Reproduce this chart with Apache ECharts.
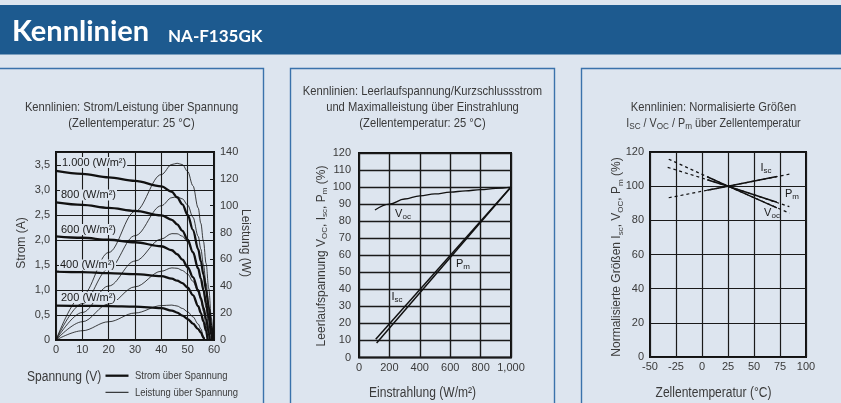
<!DOCTYPE html>
<html><head><meta charset="utf-8">
<script src="https://cdn.jsdelivr.net/npm/echarts@6/dist/echarts.min.js"></script>
<style>html,body{margin:0;padding:0;background:#dde5ef}#c{width:841px;height:403px}</style>
</head><body><div id="c"></div>
<script>
// ---------- Chart 1: I-V and P-V curves (25 °C) ----------
const V_1000 = [0,10,20,30,40,44,46,48,50,52,54,55,56,57,58,59,59.7];
const I_1000 = [3.39,3.33,3.26,3.19,3.08,2.97,2.86,2.72,2.51,2.21,1.82,1.58,1.31,1.0,0.66,0.28,0];
const P_1000 = [0,33.3,65.2,95.7,123.2,130.7,131.6,130.6,125.5,114.9,98.3,86.9,73.4,57,38.3,16.5,0];

const V_800 = [0,10,20,30,40,44,46,48,50,52,54,55,56,57,58,59,59.2];
const I_800 = [2.76,2.71,2.65,2.59,2.50,2.41,2.32,2.19,2.01,1.76,1.43,1.23,1.0,0.74,0.44,0.1,0];
const P_800 = [0,27.1,53,77.7,100,106,106.7,105.1,100.5,91.5,77.2,67.7,56,42.2,25.5,5.9,0];

const V_600 = [0,10,20,30,40,44,46,48,50,52,54,55,56,57,58,58.4];
const I_600 = [2.08,2.05,2.01,1.96,1.88,1.80,1.72,1.61,1.46,1.26,1.0,0.84,0.65,0.42,0.15,0];
const P_600 = [0,20.5,40.2,58.8,75.2,79.2,79.1,77.3,73,65.5,54,46.2,36.4,23.9,8.7,0];

const V_400 = [0,10,20,30,40,44,46,48,50,52,54,55,56,57,57.6];
const I_400 = [1.37,1.36,1.34,1.32,1.28,1.23,1.19,1.14,1.05,0.90,0.68,0.54,0.37,0.18,0];
const P_400 = [0,13.6,26.8,39.6,51.2,53.7,53.4,51.8,49,43.7,35.6,29.7,21.3,10.3,0];

const V_200 = [0,10,20,30,40,44,46,48,50,52,54,55,56,56.3];
const I_200 = [0.69,0.685,0.68,0.67,0.64,0.59,0.55,0.49,0.42,0.33,0.22,0.15,0.05,0];
const P_200 = [0,6.9,13.6,20.1,25.6,26,25.3,23.5,21,17.2,11.9,8.3,2.8,0];

const irrLabels = ['1.000 (W/m²)','800 (W/m²)','600 (W/m²)','400 (W/m²)','200 (W/m²)'];

// ---------- Chart 2: Voc / Isc / Pm over irradiance ----------
const irr_voc = [105,200,300,400,500,600,700,800,900,1000];
const voc_pct = [86.5,90,93,94.8,96,97,97.8,98.5,99.2,100];
const irr_isc = [110,1000];
const isc_pct = [10.7,100];
const irr_pm = [116,1000];
const pm_pct = [8.5,100];
const irrTicks = ['0','200','400','600','800','1,000'];

// ---------- Chart 3: normalised values over cell temperature ----------
const temp_full_isc = [-32,25,84];  const isc_full = [93.2,100,107];
const temp_full_voc = [-32,25,84];  const voc_full = [115.8,100,84.2];
const temp_full_pm  = [-33,25,84];  const pm_full  = [111,100,88];
const temp_solid = [5,25,72];
const isc_solid = [97.6,100,105.6];
const voc_solid = [105.5,100,87.3];
const pm_solid  = [103.8,100,90.6];

const zip = (a,b) => a.map((v,i)=>[v,b[i]]);

const SANS = "'Liberation Sans',Arial,sans-serif";
const NSX = 0.86;           // horizontal squeeze that imitates a condensed face
const INK = '#1a1a1a';
const TXT = '#3a3a3a';
const BG = '#dde5ef';

const tickLbl = {fontFamily:SANS, fontSize:11, color:TXT};
const gridLine = {show:true, lineStyle:{color:INK, width:1.1}};

const chart = echarts.init(document.getElementById('c'), null, {renderer:'canvas'});

function ivSeries(v,i,name){ return {name, type:'line', xAxisIndex:0, yAxisIndex:0, data:zip(v,i), showSymbol:false, smooth:0.35, smoothMonotone:'x', lineStyle:{color:'#111', width:2.3}, z:5}; }
function pvSeries(v,p,name){ return {name, type:'line', xAxisIndex:0, yAxisIndex:1, data:zip(v,p), showSymbol:false, smooth:0.35, smoothMonotone:'x', lineStyle:{color:'#111', width:0.8}, z:4}; }

const sub = (extra) => Object.assign({fontSize:8, fontFamily:SANS, fill:TXT, verticalAlign:'bottom', lineHeight:9}, extra||{});

function richText(x,y,text,rich,rot,sx){
  return {type:'text', x, y, rotation:rot||0, scaleX:sx||1, z:50, style:{text, rich, align:'center', verticalAlign:'middle', fill:TXT}};
}
function plain(x,y,text,font,align,sx){
  return {type:'text', x, y, scaleX:sx||1, z:50, style:{text, font, align:align||'center', verticalAlign:'middle', fill:TXT}};
}
function narrow(x,y,text,size,align){ return plain(x,y,text,size+'px '+SANS,align,NSX); }
function curveLbl(x,y,t){
  return {type:'text', x, y, z:60, style:{text:t, font:'11px '+SANS, align:'left', verticalAlign:'middle', fill:INK, backgroundColor:BG, padding:[0,1,0,1]}};
}
const lblRich = {a:{fontSize:11, fontFamily:SANS, fill:INK, lineHeight:14}, s:{fontSize:8, fontFamily:SANS, fill:INK, verticalAlign:'bottom', lineHeight:9}};

const graphic = [
  {type:'rect', shape:{x:0,y:5,width:841,height:49.5}, style:{fill:'#1d5a8f'}, z:1},
  {type:'text', x:12, y:32, z:2, style:{text:'Kennlinien', font:'bold 29px Lato,sans-serif', fill:'#ffffff', verticalAlign:'middle'}},
  {type:'text', x:168, y:36.5, z:2, style:{text:'NA-F135GK', font:'bold 17px Lato,sans-serif', fill:'#ffffff', verticalAlign:'middle'}},
  {type:'rect', shape:{x:-5,y:68.5,width:268.5,height:345}, style:{fill:'none', stroke:'#3a72ab', lineWidth:1.4}, z:1},
  {type:'rect', shape:{x:290.5,y:68.5,width:264,height:345}, style:{fill:'none', stroke:'#3a72ab', lineWidth:1.4}, z:1},
  {type:'rect', shape:{x:581.5,y:68.5,width:270,height:345}, style:{fill:'none', stroke:'#3a72ab', lineWidth:1.4}, z:1},
  // chart titles
  narrow(131.5,107.5,'Kennlinien: Strom/Leistung über Spannung',13),
  narrow(131.5,123,'(Zellentemperatur: 25 °C)',13),
  narrow(422.5,91.5,'Kennlinien: Leerlaufspannung/Kurzschlussstrom',13),
  narrow(422.5,107,'und Maximalleistung über Einstrahlung',13),
  narrow(422.5,123,'(Zellentemperatur: 25 °C)',13),
  narrow(713.5,107.5,'Kennlinien: Normalisierte Größen',13),
  richText(713.5,123.5,'{a|I}{s|SC}{a| / V}{s|OC}{a| / P}{s|m}{a| über Zellentemperatur}',
     {a:{fontSize:12.5, fontFamily:SANS, fill:TXT, lineHeight:15}, s:sub({fontSize:9.5, lineHeight:10})}, 0, 0.86),
  // chart 1 axis names and legend
  {type:'text', x:22, y:243, rotation:Math.PI/2, z:50, style:{text:'Strom (A)', font:'12px '+SANS, align:'center', verticalAlign:'middle', fill:TXT}},
  {type:'text', x:245, y:243, rotation:-Math.PI/2, z:50, style:{text:'Leistung (W)', font:'12px '+SANS, align:'center', verticalAlign:'middle', fill:TXT}},
  narrow(27,377,'Spannung (V)',14,'left'),
  {type:'line', shape:{x1:105.5,y1:375.7,x2:128.5,y2:375.7}, style:{stroke:'#111', lineWidth:2.3}, z:50},
  {type:'line', shape:{x1:105.5,y1:392.3,x2:128.5,y2:392.3}, style:{stroke:'#111', lineWidth:1}, z:50},
  narrow(135,376,'Strom über Spannung',11,'left'),
  narrow(135,392.5,'Leistung über Spannung',11,'left'),
  // chart 1 curve labels
  curveLbl(61,162.5,irrLabels[0]),
  curveLbl(60,195,irrLabels[1]),
  curveLbl(60,229.5,irrLabels[2]),
  curveLbl(59,265,irrLabels[3]),
  curveLbl(60,297.5,irrLabels[4]),
  // chart 2 names & labels
  richText(321.5,256,'{a|Leerlaufspannung V}{s|OC}{a|, I}{s|sc}{a|, P}{s|m}{a| (%)}',
     {a:{fontSize:12, fontFamily:SANS, fill:TXT, lineHeight:15}, s:sub()}, Math.PI/2),
  narrow(422.5,393,'Einstrahlung (W/m²)',14),
  richText(403,214,'{a|V}{s|oc}', lblRich),
  richText(397,297,'{a|I}{s|sc}', lblRich),
  richText(463,264,'{a|P}{s|m}', lblRich),
  // chart 3 names & labels
  richText(617,257,'{a|Normalisierte Größen I}{s|sc}{a|, V}{s|OC}{a|, P}{s|m}{a| (%)}',
     {a:{fontSize:12, fontFamily:SANS, fill:TXT, lineHeight:15}, s:sub()}, Math.PI/2),
  narrow(713.5,393,'Zellentemperatur (°C)',14),
  richText(766,168,'{a|I}{s|sc}', lblRich),
  richText(792,194,'{a|P}{s|m}', lblRich),
  richText(772,213,'{a|V}{s|oc}', lblRich)
];

const gridBox = {show:true, borderColor:'#111', borderWidth:2, backgroundColor:'transparent', containLabel:false};

const option = {
  backgroundColor:BG,
  animation:false,
  grid:[
    Object.assign({left:56, right:627, top:152, bottom:63}, gridBox),
    Object.assign({left:359, right:330, top:153, bottom:45.5}, gridBox),
    Object.assign({left:650, right:35, top:152, bottom:46}, gridBox)
  ],
  xAxis:[
    {type:'value', gridIndex:0, min:0, max:60, interval:10, axisLine:{show:false}, axisTick:{show:false},
      axisLabel:Object.assign({margin:4}, tickLbl), splitLine:gridLine},
    {type:'value', gridIndex:1, min:0, max:1000, interval:200, axisLine:{show:false}, axisTick:{show:false},
      axisLabel:Object.assign({margin:5, formatter:(v)=>irrTicks[Math.round(v/200)]}, tickLbl), splitLine:{show:true, lineStyle:{color:INK, width:1.4}}},
    {type:'value', gridIndex:2, min:-50, max:100, interval:25, axisLine:{show:false}, axisTick:{show:false},
      axisLabel:Object.assign({margin:4}, tickLbl), splitLine:{show:true, lineStyle:{color:INK, width:1.2}}}
  ],
  yAxis:[
    {type:'value', gridIndex:0, min:0, max:3.77, interval:0.5, axisLine:{show:false}, axisTick:{show:false},
      axisLabel:Object.assign({margin:6, formatter:(v)=>{ if(v===0) return '0'; if(Math.abs(v*2-Math.round(v*2))>1e-6) return ''; return v.toFixed(1).replace('.',','); }}, tickLbl),
      splitLine:gridLine},
    {type:'value', gridIndex:0, position:'right', min:0, max:140, interval:20, axisLine:{show:false},
      axisTick:{show:true, inside:true, length:4, lineStyle:{color:INK}}, axisLabel:Object.assign({margin:6}, tickLbl), splitLine:{show:false}},
    {type:'value', gridIndex:1, min:0, max:120, interval:10, axisLine:{show:false}, axisTick:{show:false},
      axisLabel:Object.assign({margin:8}, tickLbl), splitLine:{show:true, lineStyle:{color:INK, width:1.4}}},
    {type:'value', gridIndex:2, min:0, max:120, interval:20, axisLine:{show:false}, axisTick:{show:false},
      axisLabel:Object.assign({margin:6}, tickLbl), splitLine:{show:true, lineStyle:{color:INK, width:1.2}}}
  ],
  series:[
    pvSeries(V_1000,P_1000,'P1000'), pvSeries(V_800,P_800,'P800'), pvSeries(V_600,P_600,'P600'),
    pvSeries(V_400,P_400,'P400'), pvSeries(V_200,P_200,'P200'),
    ivSeries(V_1000,I_1000,'I1000'), ivSeries(V_800,I_800,'I800'), ivSeries(V_600,I_600,'I600'),
    ivSeries(V_400,I_400,'I400'), ivSeries(V_200,I_200,'I200'),
    {name:'Voc', type:'line', xAxisIndex:1, yAxisIndex:2, data:zip(irr_voc,voc_pct), showSymbol:false, smooth:0.4, smoothMonotone:'x', lineStyle:{color:'#111', width:1.3}, z:5},
    {name:'Isc', type:'line', xAxisIndex:1, yAxisIndex:2, data:zip(irr_isc,isc_pct), showSymbol:false, lineStyle:{color:'#111', width:1.5}, z:5},
    {name:'Pm', type:'line', xAxisIndex:1, yAxisIndex:2, data:zip(irr_pm,pm_pct), showSymbol:false, lineStyle:{color:'#111', width:1.5}, z:5},
    {name:'IscT-d', type:'line', xAxisIndex:2, yAxisIndex:3, data:zip(temp_full_isc,isc_full), showSymbol:false, lineStyle:{color:'#111', width:1.2, type:[3,3]}, z:4},
    {name:'VocT-d', type:'line', xAxisIndex:2, yAxisIndex:3, data:zip(temp_full_voc,voc_full), showSymbol:false, lineStyle:{color:'#111', width:1.2, type:[3,3]}, z:4},
    {name:'PmT-d', type:'line', xAxisIndex:2, yAxisIndex:3, data:zip(temp_full_pm,pm_full), showSymbol:false, lineStyle:{color:'#111', width:1.2, type:[3,3]}, z:4},
    {name:'IscT', type:'line', xAxisIndex:2, yAxisIndex:3, data:zip(temp_solid,isc_solid), showSymbol:false, lineStyle:{color:'#111', width:1.5}, z:5},
    {name:'VocT', type:'line', xAxisIndex:2, yAxisIndex:3, data:zip(temp_solid,voc_solid), showSymbol:false, lineStyle:{color:'#111', width:1.5}, z:5},
    {name:'PmT', type:'line', xAxisIndex:2, yAxisIndex:3, data:zip(temp_solid,pm_solid), showSymbol:false, lineStyle:{color:'#111', width:1.5}, z:5}
  ],
  graphic: graphic
};
chart.setOption(option);
</script></body></html>
